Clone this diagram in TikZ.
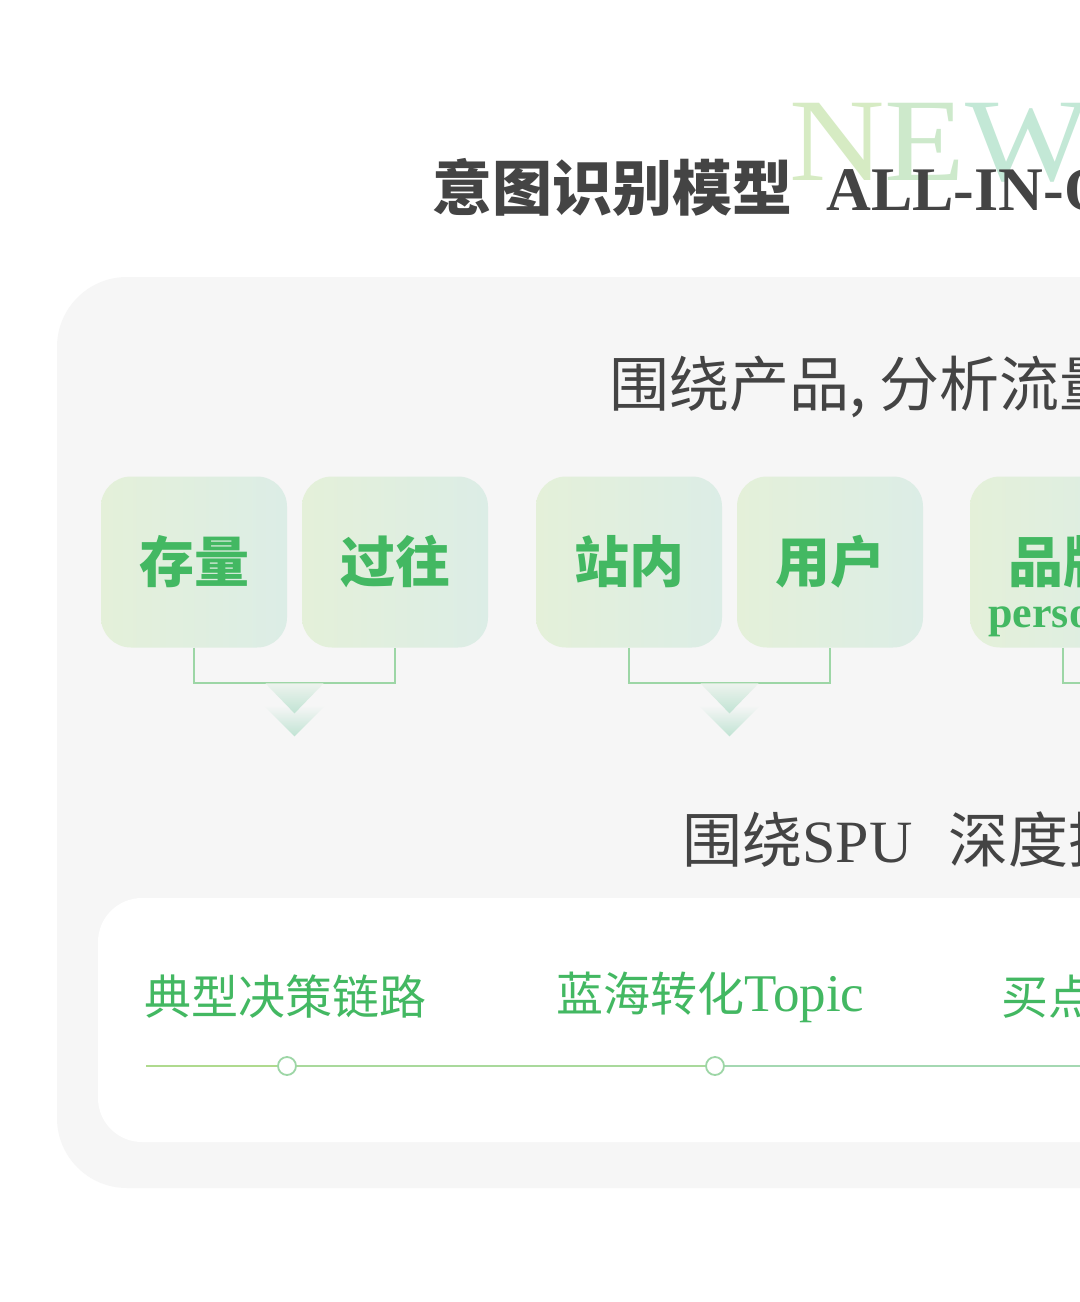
\documentclass[tikz,border=0pt]{standalone}
\usepackage{fontspec}
\newfontfamily\cjk{Noto Sans CJK SC}
\newfontfamily\lser{Liberation Serif}
\usetikzlibrary{calc}
\definecolor{panel}{HTML}{F6F6F6}
\definecolor{darktext}{HTML}{444444}
\definecolor{greentext}{HTML}{43B862}
\definecolor{boxL}{HTML}{E4F0D9}
\definecolor{boxR}{HTML}{DCEDE6}
\definecolor{brL}{HTML}{A9D98A}
\definecolor{brM}{HTML}{9DD6A6}
\definecolor{brR}{HTML}{8FD3BE}
\definecolor{chevtip}{HTML}{C0E3D3}
\definecolor{chevtop}{HTML}{EDF3EE}
\definecolor{newA}{HTML}{D6EBC3}
\definecolor{newB}{HTML}{CDE9CB}
\definecolor{newC}{HTML}{C3E8D6}
\definecolor{tlA}{HTML}{AFDA8E}
\definecolor{tlB}{HTML}{A9D99C}
\definecolor{tlC}{HTML}{A4D8B2}
\tikzset{
  cardbox/.style={rounded corners=15pt, minimum width=93pt, minimum height=85.5pt,
    left color=boxL, right color=boxR, inner sep=0pt, text=greentext,
    font=\cjk\bfseries\fontsize{27.5pt}{30pt}\selectfont},
  bracket/.style={draw=brM, line width=1pt},
  tlnode/.style={circle, draw=brM, fill=white, line width=0.9pt, minimum size=9pt, inner sep=0pt},
  tlline/.style={line width=1pt},
  tllabel/.style={anchor=west, inner sep=0pt, text=greentext,
    font=\cjk\fontsize{23.5pt}{26pt}\selectfont},
  subtitle/.style={anchor=west, inner sep=0pt, text=darktext,
    font=\cjk\fontsize{30pt}{32pt}\selectfont},
  chev/.pic={
    \shade[top color=panel, bottom color=chevtip] (-31,22) -- (31,22) -- (0,53) -- cycle;
    \shade[top color=chevtop, bottom color=chevtip] (-29,0) -- (29,0) -- (0,30) -- cycle;
  }
}
\begin{document}
\begin{tikzpicture}[x=0.5pt,y=-0.5pt]
\useasboundingbox (0,0) rectangle (1080,1302);
\clip (0,0) rectangle (1080,1302);
\fill[white] (0,0) rectangle (1080,1302);

% NEW watermark
\node[anchor=base west, inner sep=0pt, xscale=1.12, font=\lser\fontsize{59pt}{60pt}\selectfont] (new) at (789,180)
  {\textcolor{newA}{N}\textcolor{newB}{E}\textcolor{newC}{W}};
% title
\node[anchor=west, inner sep=0pt, text=darktext] (title) at (432,187)
  {{\cjk\bfseries\fontsize{30pt}{32pt}\selectfont 意图识别模型}\hspace{17pt}{\lser\bfseries\fontsize{31pt}{32pt}\selectfont ALL-IN-ONE}};

% outer panel
\fill[panel, rounded corners=35pt] (57,277) rectangle (1500,1188);

% row 1 subtitle
\node[subtitle] (sub1) at (609,387) {围绕产品, 分析流量};

% cards
\node[cardbox] (b1) at (194,562) {存量};
\node[cardbox] (b2) at (395,562) {过往};
\node[cardbox] (b3) at (629,562) {站内};
\node[cardbox] (b4) at (830,562) {用户};
\node[cardbox] (b5) at (1063,562) {品牌};
\node[cardbox] (b6) at (1264,562) {};
\node[anchor=base, inner sep=0pt, text=greentext, font=\lser\bfseries\fontsize{22pt}{24pt}\selectfont] (p5) at (1063,627) {persona};

% brackets
\draw[bracket] (b1.south) -- ++(0,35) -| (b2.south);
\draw[bracket] (b3.south) -- ++(0,35) -| (b4.south);
\draw[bracket] (b5.south) -- ++(0,35) -| (b6.south);

% chevrons
\path ($(b1.south)!0.5!(b2.south)$) ++(0,35.5) pic {chev};
\path ($(b3.south)!0.5!(b4.south)$) ++(0,35.5) pic {chev};

% row 2 subtitle
\node[subtitle] (sub2) at (682,839) {围绕{\lser\fontsize{30pt}{32pt}\selectfont SPU}\hspace{18pt}深度挖掘};

% inner white panel
\fill[white, rounded corners=22pt] (98,898) rectangle (1500,1142);

% timeline labels
\node[tllabel] (l1) at (144,997) {典型决策链路};
\node[tllabel] (l2) at (556,997) {蓝海转化{\lser\fontsize{26.5pt}{28pt}\selectfont Topic}};
\node[tllabel] (l3) at (1001,997) {买点};

% timeline
\coordinate (tstart) at (146,1066);
\coordinate (tend) at (1500,1066);
\node[tlnode] (t1) at (287,1066) {};
\node[tlnode] (t2) at (715,1066) {};
\node[tlnode] (t3) at (1143,1066) {};
\draw[tlline, draw=tlA] (tstart) -- (t1);
\draw[tlline, draw=tlB] (t1) -- (t2);
\draw[tlline, draw=tlC] (t2) -- (t3);
\draw[tlline, draw=tlC] (t3) -- (tend);
\end{tikzpicture}
\end{document}
